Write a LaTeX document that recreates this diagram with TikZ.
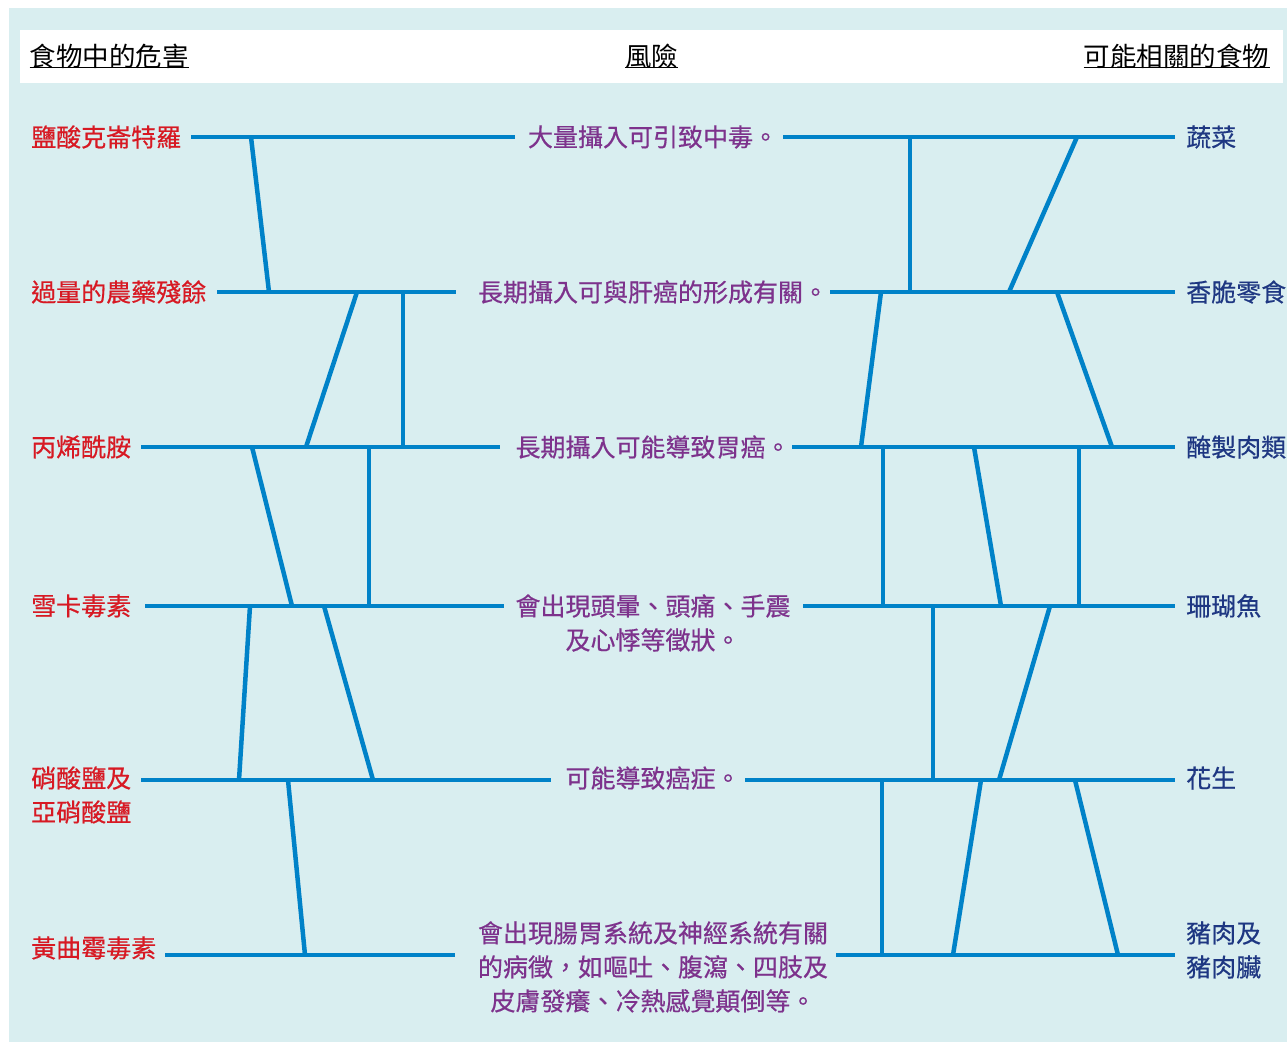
\documentclass[tikz,border=0pt]{standalone}
\usepackage{fontspec}
\setmainfont{Noto Sans CJK TC}
\newfontfamily\lblfont[FakeBold=0.5]{Noto Sans CJK TC}
\definecolor{bgc}{HTML}{D9EEF0}
\definecolor{lineblue}{HTML}{0082C8}
\definecolor{hzred}{HTML}{D71923}
\definecolor{rkpurple}{HTML}{7D328C}
\definecolor{fdblue}{HTML}{1E3782}
\tikzset{
  bline/.style={line width=4.5pt, draw=lineblue},
  lbl/.style={inner sep=0pt, font=\lblfont\fontsize{25}{34}\selectfont},
  hazard/.style={lbl, text=hzred, anchor=west, align=left},
  risk/.style={lbl, text=rkpurple, align=center},
  food/.style={lbl, text=fdblue, anchor=west, align=left},
  head/.style={inner sep=0pt, text=black, font=\fontsize{26.5}{30}\selectfont},
  uline/.style={line width=1.3pt, draw=black}
}
\begin{document}
\begin{tikzpicture}[x=1pt,y=-1pt]
\useasboundingbox (0,0) rectangle (1287,1042);
\fill[white] (0,0) rectangle (1287,1042);
\fill[bgc] (9,8) rectangle (1287,1042);
\fill[white] (20,30) rectangle (1283,83);

% header
\node[head, anchor=base west] (h1) at (29.5,66) {食物中的危害};
\node[head, anchor=base] (h2) at (651.5,66) {風險};
\node[head, anchor=base east] (h3) at (1269.5,66) {可能相關的食物};
\foreach \h in {h1,h2,h3}
  \draw[uline] ([yshift=-1.5pt]\h.base west) -- ([yshift=-1.5pt]\h.base east);

% hazards
\node[hazard] (z1) at (31,137) {鹽酸克崙特羅};
\node[hazard] (z2) at (31,292) {過量的農藥殘餘};
\node[hazard] (z3) at (31,447) {丙烯酰胺};
\node[hazard] (z4) at (31,606) {雪卡毒素};
\node[hazard] (z5) at (31,795) {硝酸鹽及\\亞硝酸鹽};
\node[hazard] (z6) at (31,948) {黃曲霉毒素};

% risks
\node[risk] (k1) at (653,137) {大量攝入可引致中毒。};
\node[risk] (k2) at (653,292) {長期攝入可與肝癌的形成有關。};
\node[risk] (k3) at (653,447) {長期攝入可能導致胃癌。};
\node[risk] (k4) at (653,623) {會出現頭暈、頭痛、手震\\及心悸等徵狀。};
\node[risk] (k5) at (653,778) {可能導致癌症。};
\node[risk] (k6) at (653,967) {會出現腸胃系統及神經系統有關\\的病徵，如嘔吐、腹瀉、四肢及\\皮膚發癢、冷熱感覺顛倒等。};

% foods
\node[food] (f1) at (1186,137) {蔬菜};
\node[food] (f2) at (1186,292) {香脆零食};
\node[food] (f3) at (1186,447) {醃製肉類};
\node[food] (f4) at (1186,606) {珊瑚魚};
\node[food] (f5) at (1186,778) {花生};
\node[food] (f6) at (1186,950) {豬肉及\\豬肉臟};

% horizontal rows: left segment a--b, right segment c--d
\foreach \i/\y/\xa/\xb/\xc in {1/137/191/515/783, 2/292/217/456/830, 3/447/141/500/792,
                               4/606/145/504/803, 5/780/141/551/745, 6/955/165/455/836} {
  \coordinate (a\i) at (\xa,\y);
  \coordinate (b\i) at (\xb,\y);
  \coordinate (c\i) at (\xc,\y);
  \coordinate (d\i) at (1175,\y);
  \draw[bline] (a\i) -- (b\i);
  \draw[bline] (c\i) -- (d\i);
}

% connectors between rows
\foreach \i/\xa/\ya/\xb/\yb in {
   1/251/137/269/292, 2/357/292/306/447, 3/403/292/403/447,
   4/252/447/292/606, 5/369/447/369/606, 6/250/606/239/780,
   7/324/606/373/780, 8/288/780/305/955,
   9/910/137/910/292, 10/1077/137/1009/292, 11/881/292/861/447,
   12/1057/292/1112/447, 13/883/447/883/606, 14/974/447/1001/606,
   15/1079/447/1079/606, 16/933/606/933/780, 17/1050/606/999/780,
   18/882/780/882/955, 19/981/780/953/955, 20/1075/780/1118/955} {
  \coordinate (u\i) at (\xa,\ya);
  \coordinate (v\i) at (\xb,\yb);
  \draw[bline] (u\i) -- (v\i);
}
\end{tikzpicture}
\end{document}
